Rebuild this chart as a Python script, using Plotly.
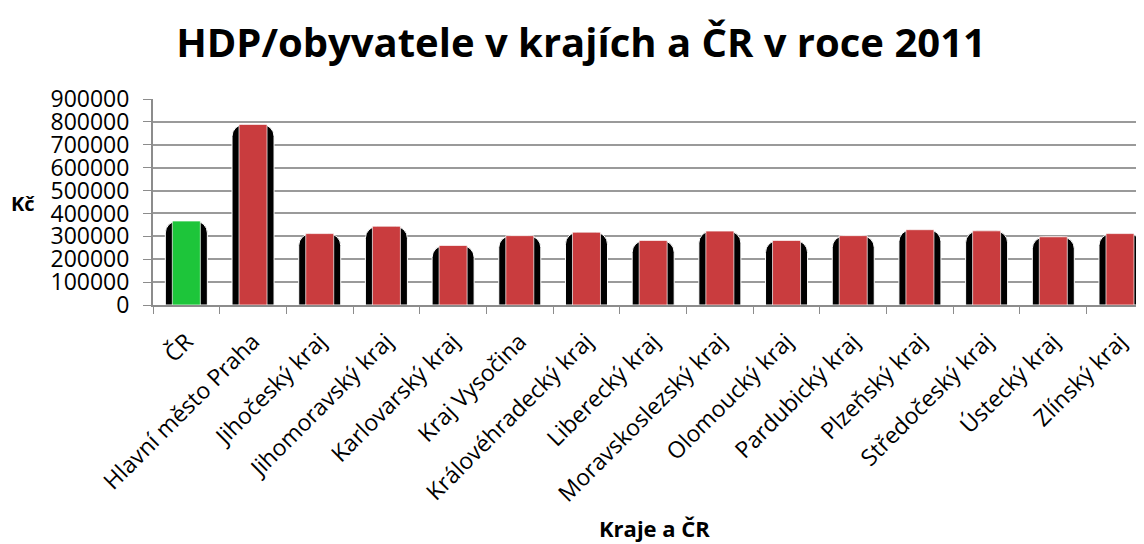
import plotly.graph_objects as go

categories = ["ČR", "Hlavní město Praha", "Jihočeský kraj", "Jihomoravský kraj",
              "Karlovarský kraj", "Kraj Vysočina", "Královéhradecký kraj",
              "Liberecký kraj", "Moravskoslezský kraj", "Olomoucký kraj",
              "Pardubický kraj", "Plzeňský kraj", "Středočeský kraj",
              "Ústecký kraj", "Zlínský kraj"]
values = [367000, 789000, 312000, 344000, 260000, 303000, 318000, 282000,
          323000, 282000, 303000, 329000, 324000, 298000, 312000]
bar_colors = ["#1DC53A"] + ["#C93C3E"] * 14
y_ticks = [0, 100000, 200000, 300000, 400000, 500000, 600000, 700000, 800000, 900000]

FONT = "Open Sans"

# page has an 8px body margin, so the figure is sized to fit inside the window
W, H = 1136, 536
L, T = 145, 91
PLOT_W = W - L
PLOT_H = 206

fig = go.Figure()
# dark outer body (shadow)
fig.add_trace(go.Bar(
    x=categories, y=values, width=0.63,
    marker=dict(color="#000000", line=dict(color="#ffffff", width=1), cornerradius=12),
    hoverinfo="skip", showlegend=False,
))
# coloured face
fig.add_trace(go.Bar(
    x=categories, y=values, width=0.42,
    marker=dict(color=bar_colors, line=dict(color="rgba(255,255,255,0.7)", width=1)),
    showlegend=False,
))

fig.update_layout(
    width=W, height=H,
    barmode="overlay",
    plot_bgcolor="white", paper_bgcolor="white",
    margin=dict(l=L, r=0, t=T, b=H - T - PLOT_H),
    font=dict(family=FONT, color="#000000"),
    title=dict(text="<b>HDP/obyvatele v krajích a ČR v roce 2011</b>",
               x=573 / W, xref="container", xanchor="center",
               y=1 - 35 / H, yref="container", yanchor="middle",
               font=dict(size=40, family=FONT, color="#000000")),
    xaxis=dict(
        range=[-0.5, 14.36],
        tickangle=-45, tickfont=dict(size=23, family=FONT),
        tickson="boundaries", ticks="outside", ticklen=7, tickcolor="#8c8c8c",
        ticklabelstandoff=12,
        showline=True, linecolor="#8c8c8c", linewidth=2,
        showgrid=False,
    ),
    yaxis=dict(
        range=[0, 900000], tickvals=y_ticks, ticktext=[str(v) for v in y_ticks],
        tickfont=dict(size=23, family=FONT),
        ticks="outside", ticklen=8, tickcolor="#8c8c8c", ticklabelstandoff=9,
        showline=True, linecolor="#8c8c8c", linewidth=2,
        showgrid=True, gridcolor="#9a9a9a", gridwidth=2,
        zeroline=False,
    ),
    annotations=[
        dict(text="<b>Kč</b>", x=(15 - L) / PLOT_W, y=(PLOT_H - (203 - 8 - T)) / PLOT_H,
             xref="paper", yref="paper", xanchor="center", yanchor="middle",
             showarrow=False, font=dict(size=20, family=FONT)),
        dict(text="<b>Kraje a ČR</b>", x=(646 - L) / PLOT_W,
             y=(PLOT_H - (528 - 8 - T)) / PLOT_H,
             xref="paper", yref="paper", xanchor="center", yanchor="middle",
             showarrow=False, font=dict(size=22, family=FONT)),
    ],
)

fig.write_html("out.html")
